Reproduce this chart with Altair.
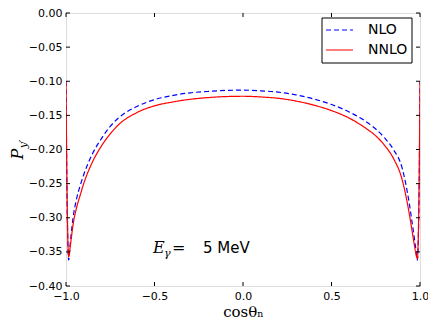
import altair as alt
import pandas as pd

# cos(theta_n) sample points
x_vals = [-1.0, -0.995, -0.985, -0.975, -0.96, -0.94, -0.92, -0.9, -0.85, -0.8,
          -0.75, -0.7, -0.6, -0.5, -0.4, -0.3, -0.2, -0.1, 0.0, 0.1, 0.2, 0.3, 0.4,
          0.5, 0.6, 0.7, 0.75, 0.8, 0.85, 0.9, 0.94, 0.96, 0.975, 0.985, 0.995, 1.0]

nlo = [-0.10, -0.25, -0.362, -0.335, -0.30, -0.272, -0.253, -0.237, -0.206, -0.184,
       -0.166, -0.153, -0.137, -0.127, -0.121, -0.117, -0.115, -0.1135, -0.113, -0.114, -0.116,
       -0.120, -0.126, -0.134, -0.145, -0.160, -0.170, -0.183, -0.200, -0.228, -0.280, -0.315,
       -0.343, -0.362, -0.26, -0.10]

nnlo = [-0.10, -0.24, -0.357, -0.34, -0.31, -0.285, -0.267, -0.250, -0.218, -0.195,
        -0.177, -0.163, -0.146, -0.136, -0.1305, -0.1265, -0.124, -0.1225, -0.122, -0.123, -0.125,
        -0.129, -0.135, -0.143, -0.154, -0.170, -0.180, -0.194, -0.213, -0.245, -0.295, -0.327,
        -0.35, -0.36, -0.25, -0.10]

series_names = ["NLO", "NNLO"]
series_colors = ["#0000ff", "#ff0000"]
series_dash = [[5, 3], [1, 0]]
x_ticks = [-1.0, -0.5, 0.0, 0.5, 1.0]
y_ticks = [0.0, -0.05, -0.10, -0.15, -0.20, -0.25, -0.30, -0.35, -0.40]

n = len(x_vals)
df = pd.DataFrame({
    "x": x_vals * 2,
    "y": nlo + nnlo,
    "series": [series_names[0]] * n + [series_names[1]] * n,
})

W, H = 354, 273
TL = 4

xs = alt.Scale(domain=[-1, 1], nice=False, zero=False)
ys = alt.Scale(domain=[-0.4, 0], nice=False, zero=False)

x_axis = alt.Axis(values=x_ticks, format=".1f", tickSize=0, domain=False, grid=False,
                  labelFont="DejaVu Sans", labelFontSize=11, labelColor="black",
                  labelPadding=4, labelFlush=False,
                  title="cosθₙ", titleFont="DejaVu Serif", titleFontSize=15,
                  titleFontWeight="normal", titleColor="black", titlePadding=3)
y_axis = alt.Axis(values=y_ticks, format=".2f", tickSize=0, domain=False, grid=False,
                  labelFont="DejaVu Sans", labelFontSize=11, labelColor="black",
                  labelPadding=4, labelFlush=False, title=None)

xenc = alt.X("x:Q", scale=xs, axis=x_axis)
yenc = alt.Y("y:Q", scale=ys, axis=y_axis)

color_scale = alt.Scale(domain=series_names, range=series_colors)
dash_scale = alt.Scale(domain=series_names, range=series_dash)

lines = alt.Chart(df).mark_line(strokeWidth=1.2, clip=True, interpolate="monotone").encode(
    x=xenc,
    y=yenc,
    color=alt.Color("series:N", scale=color_scale, legend=None),
    strokeDash=alt.StrokeDash("series:N", scale=dash_scale, legend=None),
)

xt = pd.DataFrame({"x": x_ticks})
yt = pd.DataFrame({"y": y_ticks})

xb = alt.Chart(xt).mark_rule(color="black", strokeWidth=1).encode(x=xenc, y=alt.value(H), y2=alt.value(H - TL))
xtp = alt.Chart(xt).mark_rule(color="black", strokeWidth=1).encode(x=xenc, y=alt.value(0), y2=alt.value(TL))
yl = alt.Chart(yt).mark_rule(color="black", strokeWidth=1).encode(y=yenc, x=alt.value(0), x2=alt.value(TL))
yr = alt.Chart(yt).mark_rule(color="black", strokeWidth=1).encode(y=yenc, x=alt.value(W), x2=alt.value(W - TL))

one = pd.DataFrame({"a": [0]})

# manual legend
leg_box = alt.Chart(one).mark_rect(fill="white", stroke="black", strokeWidth=1).encode(
    x=alt.value(256), x2=alt.value(346), y=alt.value(5), y2=alt.value(50))
leg_lines = []
leg_texts = []
for i, name in enumerate(series_names):
    yy = 17 + 20 * i
    leg_lines.append(alt.Chart(one).mark_rule(color=series_colors[i], strokeWidth=1.2,
                                              strokeDash=series_dash[i]).encode(
        x=alt.value(260), x2=alt.value(287), y=alt.value(yy)))
    leg_texts.append(alt.Chart(one).mark_text(font="DejaVu Sans", fontSize=14, align="left",
                                              baseline="middle", color="black").encode(
        x=alt.value(302), y=alt.value(yy), text=alt.value(name)))

p_lab = alt.Chart(one).mark_text(font="DejaVu Serif", fontStyle="italic", fontSize=16, angle=270,
                                 align="center", baseline="middle", color="black").encode(
    x=alt.value(-48), y=alt.value(141), text=alt.value("P"))
p_sub = alt.Chart(one).mark_text(font="DejaVu Serif", fontStyle="italic", fontSize=11, angle=270,
                                 align="center", baseline="middle", color="black").encode(
    x=alt.value(-42), y=alt.value(131), text=alt.value("y′"))

e_lab = alt.Chart(one).mark_text(font="DejaVu Serif", fontStyle="italic", fontSize=16,
                                 align="left", baseline="alphabetic", color="black").encode(
    x=alt.value(87), y=alt.value(240), text=alt.value("E"))
e_sub = alt.Chart(one).mark_text(font="DejaVu Serif", fontStyle="italic", fontSize=11,
                                 align="left", baseline="alphabetic", color="black").encode(
    x=alt.value(98), y=alt.value(244), text=alt.value("γ"))
e_eq = alt.Chart(one).mark_text(font="DejaVu Serif", fontSize=16,
                                align="left", baseline="alphabetic", color="black").encode(
    x=alt.value(106), y=alt.value(240), text=alt.value("="))
e_val = alt.Chart(one).mark_text(font="DejaVu Sans", fontSize=15,
                                 align="left", baseline="alphabetic", color="black").encode(
    x=alt.value(137), y=alt.value(240), text=alt.value("5 MeV"))

chart = alt.layer(lines, xb, xtp, yl, yr, leg_box, *leg_lines, *leg_texts,
                  p_lab, p_sub, e_lab, e_sub, e_eq, e_val).properties(
    width=W, height=H,
    padding={"left": 58, "top": 5, "right": 8, "bottom": 40},
    autosize=alt.AutoSizeParams(type="none"),
).configure_view(stroke="black", strokeWidth=1).configure(background="white")

chart.save("out.html", embed_options={"renderer": "svg", "actions": False})
